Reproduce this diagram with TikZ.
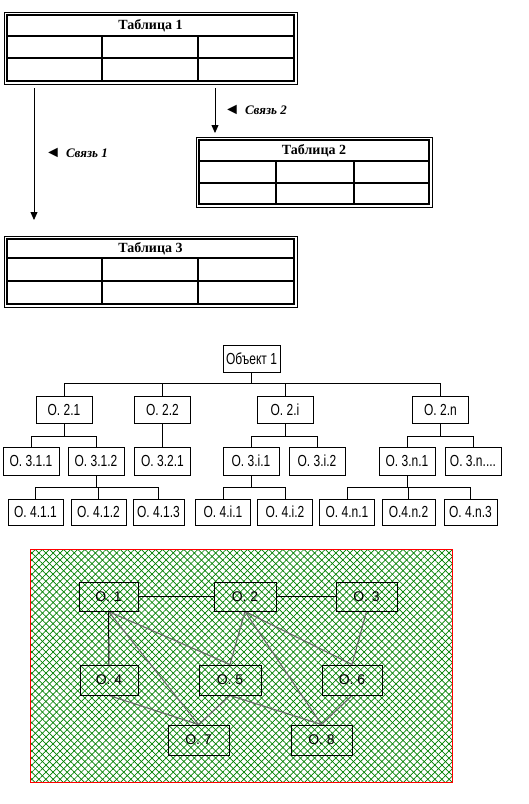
\documentclass[tikz,border=0pt]{standalone}
\usepackage{fontspec}
\setmainfont{Liberation Serif}
\newfontfamily\boxfont[FakeStretch=0.75]{Liberation Sans}
\newfontfamily\classfont{Liberation Sans}
\usetikzlibrary{arrows.meta}
\usetikzlibrary{patterns.meta}
\pgfdeclarelayer{background}
\pgfdeclarelayer{edgelayer}
\pgfdeclarelayer{nodelayer}
\pgfsetlayers{background,edgelayer,nodelayer,main}
\tikzstyle{none}=[inner sep=0pt]
\tikzstyle{table title}=[inner sep=0pt,font=\bfseries\fontsize{14}{16}\selectfont]
\tikzstyle{link label}=[inner sep=0pt,anchor=west,font=\fontsize{13}{15}\selectfont]
\tikzstyle{thin frame}=[draw=black,line width=0.8pt]
\tikzstyle{thick frame}=[draw=black,line width=1.6pt]
\tikzstyle{grid line}=[-,draw=black,line width=1.6pt]
\tikzstyle{link arrow}=[-{Triangle[width=7pt,length=8pt]},draw=black,line width=0.8pt]
\tikzstyle{objbox}=[rectangle,draw=black,line width=0.8pt,minimum width=56pt,minimum height=27pt,inner sep=1pt,font=\boxfont\fontsize{16}{18}\selectfont]
\tikzstyle{branch}=[-,draw=black,line width=0.8pt]
\tikzstyle{classbox}=[rectangle,draw=black,line width=1pt,minimum width=60pt,minimum height=29pt,inner sep=1pt,font=\classfont\fontsize{14}{16}\selectfont]
\tikzstyle{solid link}=[-,draw=black,line width=1pt]
\tikzstyle{grey link}=[-,draw=black!60,line width=1.1pt]
\begin{document}
\begin{tikzpicture}[x=1pt,y=-1pt]
	\useasboundingbox (0,0) rectangle (529,804);
	\begin{pgfonlayer}{nodelayer}
		% Table 1
		\node [style=none] (0) at (4, 12) {};
		\node [style=none] (1) at (297, 84) {};
		\node [style=none] (2) at (7, 15) {};
		\node [style=none] (3) at (294, 81) {};
		\node [style=none] (4) at (7, 36) {};
		\node [style=none] (5) at (294, 36) {};
		\node [style=none] (6) at (7, 58) {};
		\node [style=none] (7) at (294, 58) {};
		\node [style=none] (8) at (102, 36) {};
		\node [style=none] (9) at (102, 81) {};
		\node [style=none] (10) at (198, 36) {};
		\node [style=none] (11) at (198, 81) {};
		\node [style=table title] (12) at (150.5, 25.5) {Таблица 1};
		% Table 2
		\node [style=none] (13) at (196, 137) {};
		\node [style=none] (14) at (432, 207) {};
		\node [style=none] (15) at (199, 140) {};
		\node [style=none] (16) at (429, 204) {};
		\node [style=none] (17) at (199, 161) {};
		\node [style=none] (18) at (429, 161) {};
		\node [style=none] (19) at (199, 183) {};
		\node [style=none] (20) at (429, 183) {};
		\node [style=none] (21) at (276, 161) {};
		\node [style=none] (22) at (276, 204) {};
		\node [style=none] (23) at (354, 161) {};
		\node [style=none] (24) at (354, 204) {};
		\node [style=table title] (25) at (314, 150.5) {Таблица 2};
		% Table 3
		\node [style=none] (26) at (4, 236) {};
		\node [style=none] (27) at (297, 307) {};
		\node [style=none] (28) at (7, 239) {};
		\node [style=none] (29) at (294, 304) {};
		\node [style=none] (30) at (7, 258) {};
		\node [style=none] (31) at (294, 258) {};
		\node [style=none] (32) at (7, 281) {};
		\node [style=none] (33) at (294, 281) {};
		\node [style=none] (34) at (102, 258) {};
		\node [style=none] (35) at (102, 304) {};
		\node [style=none] (36) at (198, 258) {};
		\node [style=none] (37) at (198, 304) {};
		\node [style=table title] (38) at (150.5, 248.5) {Таблица 3};
		% links
		\node [style=none] (39) at (34, 88) {};
		\node [style=none] (40) at (34, 220) {};
		\node [style=none] (41) at (215, 88) {};
		\node [style=none] (42) at (215, 133) {};
		\node [style=link label] (43) at (45, 153) {{\fontsize{16}{16}\selectfont ◄}\hspace{5pt}\textbf{\textit{Связь 1}}};
		\node [style=link label] (44) at (224, 110) {{\fontsize{16}{16}\selectfont ◄}\hspace{5pt}\textbf{\textit{Связь 2}}};
		% object tree
		\node [style=objbox, minimum width=57pt] (45) at (251.5, 358.5) {Объект 1};
		\node [style=objbox] (46) at (64, 409.5) {O. 2.1};
		\node [style=objbox] (47) at (162.5, 409.5) {O. 2.2};
		\node [style=objbox] (48) at (285, 409.5) {O. 2.i};
		\node [style=objbox] (49) at (440.5, 409.5) {O. 2.n};
		\node [style=objbox, minimum height=28pt] (50) at (31, 461) {O. 3.1.1};
		\node [style=objbox, minimum height=28pt] (51) at (96, 461) {O. 3.1.2};
		\node [style=objbox, minimum height=28pt] (52) at (162.5, 461) {O. 3.2.1};
		\node [style=objbox, minimum height=28pt] (53) at (251, 461) {O. 3.i.1};
		\node [style=objbox, minimum height=28pt] (54) at (317, 461) {O. 3.i.2};
		\node [style=objbox, minimum height=28pt] (55) at (407, 461) {O. 3.n.1};
		\node [style=objbox, minimum height=28pt] (56) at (473, 461) {O. 3.n....};
		\node [style=objbox, minimum width=55pt, minimum height=26pt] (57) at (35.5, 512) {O. 4.1.1};
		\node [style=objbox, minimum width=55pt, minimum height=26pt] (58) at (98.5, 512) {O. 4.1.2};
		\node [style=objbox, minimum width=51pt, minimum height=26pt] (59) at (158.5, 512) {O. 4.1.3};
		\node [style=objbox, minimum width=55pt, minimum height=26pt] (60) at (223, 512) {O. 4.i.1};
		\node [style=objbox, minimum width=55pt, minimum height=26pt] (61) at (285, 512) {O. 4.i.2};
		\node [style=objbox, minimum width=55pt, minimum height=26pt] (62) at (347, 512) {O. 4.n.1};
		\node [style=objbox, minimum width=53pt, minimum height=26pt] (63) at (408.5, 512) {O.4.n.2};
		\node [style=objbox, minimum width=53pt, minimum height=26pt] (64) at (470.5, 512) {O. 4.n.3};
		\node [style=none] (65) at (251.5, 383) {};
		\node [style=none] (66) at (64, 436) {};
		\node [style=none] (67) at (285, 436) {};
		\node [style=none] (68) at (440.5, 436) {};
		\node [style=none] (69) at (96, 487) {};
		\node [style=none] (70) at (251, 487) {};
		\node [style=none] (71) at (407, 487) {};
		% object graph
		\node [style=classbox, minimum width=59pt] (72) at (108.5, 596.5) {O. 1\hspace{10pt}};
		\node [style=classbox, minimum width=62pt] (73) at (245, 596.5) {O. 2\hspace{8pt}};
		\node [style=classbox, minimum width=61pt] (74) at (366.5, 596.5) {O. 3\hspace{8pt}};
		\node [style=classbox, minimum width=58pt, minimum height=30pt] (75) at (109, 680) {O. 4\hspace{10pt}};
		\node [style=classbox, minimum width=62pt, minimum height=30pt] (76) at (230, 680) {O. 5\hspace{8pt}};
		\node [style=classbox, minimum width=60pt, minimum height=30pt] (77) at (352, 680) {O. 6\hspace{8pt}};
		\node [style=classbox, minimum width=61pt, minimum height=30pt] (78) at (198.5, 740) {O. 7\hspace{6pt}};
		\node [style=classbox, minimum width=61pt, minimum height=30pt] (79) at (321.5, 740) {O. 8\hspace{6pt}};
		\node [style=none] (80) at (30, 549) {};
		\node [style=none] (81) at (452, 782) {};
	\end{pgfonlayer}
	\begin{pgfonlayer}{background}
		\fill [white] (80.center) rectangle (81.center);
		\path [pattern={Lines[angle=45,distance=5pt,line width=0.7pt]}, pattern color=green!50!black] (80.center) rectangle (81.center);
		\path [pattern={Lines[angle=-45,distance=5pt,line width=0.7pt]}, pattern color=green!50!black] (80.center) rectangle (81.center);
		\draw [draw=red, line width=1pt] (80.center) rectangle (81.center);
	\end{pgfonlayer}
	\begin{pgfonlayer}{edgelayer}
		\draw [style=thin frame] (0.center) rectangle (1.center);
		\draw [style=thick frame] (2.center) rectangle (3.center);
		\draw [style=grid line] (4.center) to (5.center);
		\draw [style=grid line] (6.center) to (7.center);
		\draw [style=grid line] (8.center) to (9.center);
		\draw [style=grid line] (10.center) to (11.center);
		\draw [style=thin frame] (13.center) rectangle (14.center);
		\draw [style=thick frame] (15.center) rectangle (16.center);
		\draw [style=grid line] (17.center) to (18.center);
		\draw [style=grid line] (19.center) to (20.center);
		\draw [style=grid line] (21.center) to (22.center);
		\draw [style=grid line] (23.center) to (24.center);
		\draw [style=thin frame] (26.center) rectangle (27.center);
		\draw [style=thick frame] (28.center) rectangle (29.center);
		\draw [style=grid line] (30.center) to (31.center);
		\draw [style=grid line] (32.center) to (33.center);
		\draw [style=grid line] (34.center) to (35.center);
		\draw [style=grid line] (36.center) to (37.center);
		\draw [style=link arrow] (39.center) to (40.center);
		\draw [style=link arrow] (41.center) to (42.center);
		\draw [style=branch] (45.south) to (65.center);
		\draw [style=branch] (65.center) -| (46.north);
		\draw [style=branch] (65.center) -| (47.north);
		\draw [style=branch] (65.center) -| (48.north);
		\draw [style=branch] (65.center) -| (49.north);
		\draw [style=branch] (46.south) to (66.center);
		\draw [style=branch] (66.center) -| (50.north);
		\draw [style=branch] (66.center) -| (51.north);
		\draw [style=branch] (47.south) to (52.north);
		\draw [style=branch] (48.south) to (67.center);
		\draw [style=branch] (67.center) -| (53.north);
		\draw [style=branch] (67.center) -| (54.north);
		\draw [style=branch] (49.south) to (68.center);
		\draw [style=branch] (68.center) -| (55.north);
		\draw [style=branch] (68.center) -| (56.north);
		\draw [style=branch] (51.south) to (69.center);
		\draw [style=branch] (69.center) -| (57.north);
		\draw [style=branch] (69.center) -| (58.north);
		\draw [style=branch] (69.center) -| (59.north);
		\draw [style=branch] (53.south) to (70.center);
		\draw [style=branch] (70.center) -| (60.north);
		\draw [style=branch] (70.center) -| (61.north);
		\draw [style=branch] (55.south) to (71.center);
		\draw [style=branch] (71.center) -| (62.north);
		\draw [style=branch] (71.center) -| (63.north);
		\draw [style=branch] (71.center) -| (64.north);
		\draw [style=solid link] (72.east) to (73.west);
		\draw [style=solid link] (73.east) to (74.west);
		\draw [style=solid link] (72.south) to (75.north);
		\draw [style=grey link] (72.south) to (76.north);
		\draw [style=grey link] (72.south) to (78.north);
		\draw [style=grey link] (73.south) to (76.north);
		\draw [style=grey link] (73.south) to (77.north);
		\draw [style=grey link] (73.south) to (79.north);
		\draw [style=grey link] (74.south) to (77.north);
		\draw [style=grey link] (75.south) to (78.north);
		\draw [style=grey link] (76.south) to (78.north);
		\draw [style=grey link] (76.south) to (79.north);
		\draw [style=grey link] (77.south) to (79.north);
	\end{pgfonlayer}
\end{tikzpicture}
\end{document}
